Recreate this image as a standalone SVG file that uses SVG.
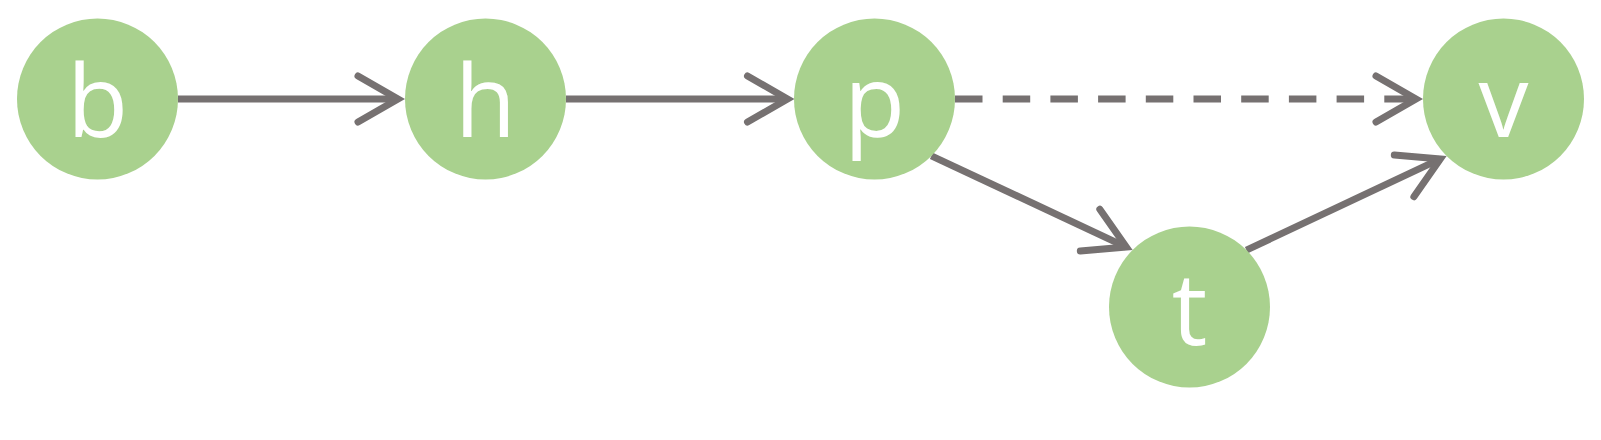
<svg xmlns="http://www.w3.org/2000/svg" width="1601" height="440" viewBox="0 0 1601 440">
<style>
.node circle{fill:#A9D18E}
.node text{fill:#FFFFFF;font-family:"Open Sans","Noto Sans","DejaVu Sans",sans-serif;font-size:100px;font-weight:500;text-anchor:middle}
.edge{stroke:#767171;stroke-width:7;fill:none}
.dash{stroke-dasharray:27.5 20.2}
</style>
<defs>
<marker id="arr" markerUnits="userSpaceOnUse" orient="auto" refX="0" refY="0" markerWidth="10" markerHeight="10" overflow="visible">
<path d="M-40,-23 L0,0 L-40,23" fill="none" stroke="#767171" stroke-width="7" stroke-linecap="round" stroke-linejoin="miter"/>
</marker>
</defs>
<rect width="1601" height="440" fill="#FFFFFF"/>
<g id="connectors">
<line class="edge" x1="178" y1="99" x2="398" y2="99" marker-end="url(#arr)"/>
<line class="edge" x1="566" y1="99" x2="787.5" y2="99" marker-end="url(#arr)"/>
<line class="edge dash" x1="955" y1="99" x2="1416" y2="99" marker-end="url(#arr)"/>
<line class="edge" x1="931.4" y1="155.9" x2="1126.3" y2="247.1" marker-end="url(#arr)"/>
<line class="edge" x1="1246.4" y1="250.1" x2="1440.3" y2="158.9" marker-end="url(#arr)"/>
</g>
<g id="node-b" class="node"><circle cx="97.5" cy="99" r="80.5"/><text x="97.5" y="137">b</text></g>
<g id="node-h" class="node"><circle cx="485.5" cy="99" r="80.5"/><text x="485.5" y="137">h</text></g>
<g id="node-p" class="node"><circle cx="874.5" cy="99" r="80.5"/><text x="874.5" y="137">p</text></g>
<g id="node-v" class="node"><circle cx="1503.5" cy="99" r="80.5"/><text x="1503.5" y="137">v</text></g>
<g id="node-t" class="node"><circle cx="1189.5" cy="307" r="80.5"/><text x="1189.5" y="345">t</text></g>
</svg>
